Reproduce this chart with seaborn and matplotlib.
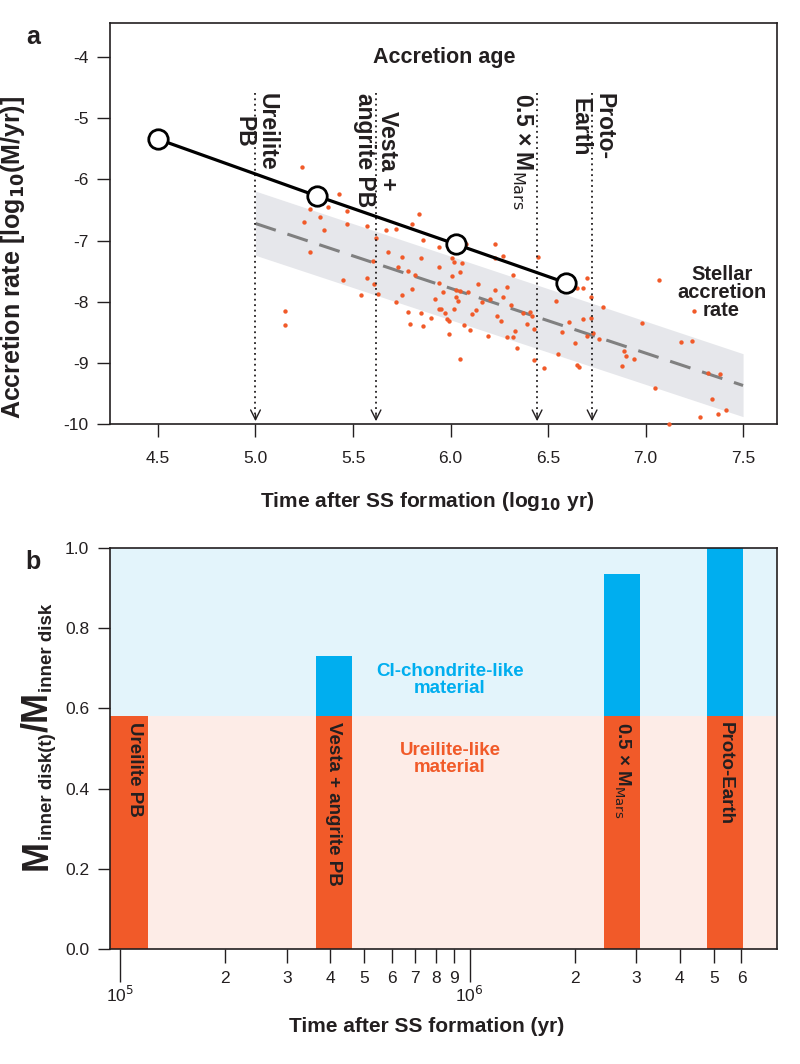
# Accretion rate vs time (a) and inner disk composition bars (b)

import numpy as np
import matplotlib
matplotlib.use('Agg')
import matplotlib.pyplot as plt
import matplotlib.transforms as mtransforms
import seaborn as sns

# ---- panel a data ----
star_x = [5.24, 5.43, 5.28, 5.37, 5.47, 5.33, 5.25, 5.47, 5.35, 5.57, 5.84, 5.80, 5.72, 5.67, 5.62,
          5.86, 5.28, 5.68, 5.75, 5.85, 5.60, 5.73, 5.78, 5.82, 5.94, 5.45, 5.57, 5.61, 5.80, 5.54,
          5.63, 5.75, 5.72, 5.92, 5.94, 5.78, 5.85, 5.90, 5.79, 5.86, 5.15, 5.15, 5.94, 5.94,
          6.23, 6.08, 6.27, 6.23, 6.01, 6.06, 6.02, 6.05, 6.01, 6.32, 6.45, 6.70, 6.65, 6.68, 6.72,
          6.54, 6.78, 7.07, 7.25, 6.14, 6.23, 6.29, 5.96, 6.03, 6.05, 6.09, 6.03, 6.16, 6.04, 6.20,
          6.27, 6.31, 6.02, 6.13, 5.95, 5.97, 6.11, 6.24, 6.37, 6.41, 6.42, 5.98, 5.99, 6.26, 6.39,
          6.61, 6.68, 6.72, 6.43, 6.33, 6.07, 6.10, 5.99, 6.19, 6.29, 6.32, 6.57, 6.70, 6.73, 6.76,
          6.64, 6.34, 6.98, 7.18, 7.24, 6.89, 6.90, 6.94, 6.55, 6.88, 6.05, 6.43, 6.48, 6.65, 6.66,
          7.05, 7.32, 7.38, 7.34, 7.41, 7.37, 7.28, 7.12]
star_y = [-5.79, -6.23, -6.48, -6.45, -6.52, -6.62, -6.70, -6.72, -6.82, -6.76, -6.57, -6.72, -6.81, -6.83, -6.95,
          -6.99, -7.19, -7.19, -7.27, -7.28, -7.34, -7.43, -7.50, -7.56, -7.43, -7.64, -7.61, -7.71, -7.79, -7.89,
          -7.87, -7.89, -8.01, -7.96, -8.12, -8.16, -8.18, -8.26, -8.36, -8.39, -8.15, -8.38, -7.11, -7.70,
          -7.06, -7.06, -7.25, -7.29, -7.28, -7.37, -7.35, -7.51, -7.58, -7.56, -7.26, -7.61, -7.77, -7.77, -7.92,
          -7.98, -8.08, -7.65, -8.15, -7.71, -7.80, -7.76, -7.84, -7.80, -7.82, -7.84, -7.92, -8.00, -7.98, -7.95,
          -7.93, -8.06, -8.12, -8.13, -8.12, -8.19, -8.20, -8.23, -8.18, -8.16, -8.23, -8.29, -8.31, -8.31, -8.37,
          -8.33, -8.29, -8.27, -8.45, -8.48, -8.38, -8.46, -8.53, -8.56, -8.58, -8.58, -8.50, -8.56, -8.51, -8.61,
          -8.68, -8.76, -8.34, -8.66, -8.65, -8.81, -8.89, -8.93, -8.85, -9.05, -8.94, -8.96, -9.09, -9.03, -9.06,
          -9.41, -9.16, -9.18, -9.59, -9.77, -9.83, -9.89, -10.0]

# accretion of the bodies (black line with circles)
body_x = [4.5, 5.315, 6.028, 6.592]
body_y = [-5.34, -6.27, -7.06, -7.69]

# stellar accretion rate trend and spread
trend_x = [5.0, 7.5]
trend_y = [-6.72, -9.37]
band_upper = [-6.19, -8.85]
band_lower = [-7.24, -9.88]

# accretion ages (log10 yr)
age_names = ['Ureilite\nPB', 'Vesta +\nangrite PB', '0.5 × M$_{\\mathrm{Mars}}$', 'Proto-\nEarth']
age_x = [5.0, 5.618, 6.444, 6.726]

# ---- panel b data ----
bar_names = ['Ureilite PB', 'Vesta + angrite PB', '0.5 × M$_{\\mathrm{Mars}}$', 'Proto-Earth']
bar_start = [9.0e4, 3.637e5, 2.425e6, 4.78e6]
bar_end = [1.203e5, 4.61e5, 3.074e6, 6.06e6]
ureilite_frac = [0.58, 0.58, 0.58, 0.58]
total_frac = [0.58, 0.73, 0.935, 1.0]

orange = '#F15A29'
blue = '#00AEEF'
dark = '#231F20'
narrow = ['Liberation Sans Narrow', 'Liberation Sans', 'DejaVu Sans']

sns.set_style('ticks')
plt.rcParams['font.family'] = ['Liberation Sans', 'DejaVu Sans']
plt.rcParams['axes.unicode_minus'] = False
plt.rcParams['mathtext.fontset'] = 'custom'
plt.rcParams['mathtext.rm'] = 'Liberation Sans Narrow'
plt.rcParams['mathtext.bf'] = 'Liberation Sans Narrow:bold'
plt.rcParams['mathtext.it'] = 'Liberation Sans Narrow:italic'
plt.rcParams['axes.edgecolor'] = dark
plt.rcParams['xtick.color'] = dark
plt.rcParams['ytick.color'] = dark

fig = plt.figure(figsize=(8, 10.64), dpi=100)
ax1 = fig.add_axes([110 / 800, 1 - 424 / 1064, 667 / 800, 401 / 1064])
ax2 = fig.add_axes([110 / 800, 1 - 949 / 1064, 667 / 800, 401 / 1064])

# ---------------- panel a ----------------
ax1.fill_between(trend_x, band_lower, band_upper, color='#E6E7EB', lw=0, zorder=1)
sns.scatterplot(x=star_x, y=star_y, ax=ax1, color=orange, s=10, linewidth=0, zorder=3, clip_on=False)
sns.lineplot(x=trend_x, y=trend_y, ax=ax1, color='#808080', lw=2.2, zorder=2)
ax1.lines[-1].set_dashes([7, 4])
sns.lineplot(x=body_x, y=body_y, ax=ax1, color='black', lw=2.3, marker='o', markersize=14,
             markerfacecolor='white', markeredgecolor='black', markeredgewidth=2, zorder=5, clip_on=False)

for name, x in zip(age_names, age_x):
    ax1.plot([x, x], [-4.59, -9.9], color=dark, lw=1.3, ls=(0, (1, 2)), zorder=4)
    ax1.annotate('', xy=(x, -10.0), xytext=(x, -9.8),
                 arrowprops=dict(arrowstyle='->,head_length=0.7,head_width=0.35', lw=1, color=dark))
    dx = -0.075 if name.startswith('0.5') else 0.0
    ax1.text(x + dx, -4.59, name, rotation=-90, ha='center', va='top', fontsize=16.5,
             fontweight='bold', color=dark, linespacing=1.05, family=narrow)

ax1.text(5.967, -4.0, 'Accretion age', ha='center', va='center', fontsize=15.5, fontweight='bold',
         color=dark, family=narrow)
ax1.text(7.39, -7.85, 'Stellar\naccretion\nrate', ha='center', va='center', fontsize=14.5,
         fontweight='bold', color=dark, linespacing=0.95, family=narrow)

ax1.set_xlim(4.254, 7.674)
ax1.set_ylim(-10, -3.44)
ax1.set_xticks([4.5, 5.0, 5.5, 6.0, 6.5, 7.0, 7.5])
ax1.set_xticklabels(['4.5', '5.0', '5.5', '6.0', '6.5', '7.0', '7.5'])
ax1.set_yticks([-10, -9, -8, -7, -6, -5, -4])
ax1.set_yticklabels(['-10', '-9', '-8', '-7', '-6', '-5', '-4'])
ax1.tick_params(axis='x', direction='out', length=9.5, width=1, labelsize=12.5, pad=10)
ax1.tick_params(axis='y', direction='out', length=9.5, width=1, labelsize=12.5, pad=6)
ax1.set_xlabel('Time after SS formation (log$_{\\mathbf{10}}$ yr)', fontsize=15, fontweight='bold',
               color=dark, family=narrow)
ax1.xaxis.set_label_coords(0.475, -0.165)
ax1.set_ylabel('Accretion rate [log$_{\\mathbf{10}}$(M/yr)]', fontsize=18, fontweight='bold',
               color=dark, family=narrow)
ax1.yaxis.set_label_coords(-0.124, 0.416)
for s in ax1.spines.values():
    s.set_linewidth(1.2)

# ---------------- panel b ----------------
ax2.set_xscale('log')
ax2.axhspan(0, 0.58, color='#FDECE7', lw=0, zorder=0)
ax2.axhspan(0.58, 1.0, color='#E3F4FB', lw=0, zorder=0)
widths = [e - s for s, e in zip(bar_start, bar_end)]
blue_h = [t - u for t, u in zip(total_frac, ureilite_frac)]
ax2.bar(bar_start, ureilite_frac, width=widths, align='edge', color=orange, lw=0, zorder=2)
ax2.bar(bar_start, blue_h, width=widths, bottom=ureilite_frac, align='edge', color=blue, lw=0, zorder=2)

for name, s, e in zip(bar_names, bar_start, bar_end):
    xc = np.sqrt(s * e) if s > 1e5 else np.sqrt(1.0e5 * e)
    ax2.text(xc, 0.565, name, rotation=-90, ha='center', va='top', fontsize=13.5,
             fontweight='bold', color=dark, zorder=4, family=narrow)

ax2.text(8.8e5, 0.67, 'CI-chondrite-like\nmaterial', ha='center', va='center', fontsize=13.5,
         fontweight='bold', color=blue, linespacing=1.0, family=narrow)
ax2.text(8.8e5, 0.475, 'Ureilite-like\nmaterial', ha='center', va='center', fontsize=13.5,
         fontweight='bold', color=orange, linespacing=1.0, family=narrow)

ax2.set_xlim(10 ** 4.9714, 10 ** 6.8798)
ax2.set_ylim(0, 1.0)
ax2.set_yticks([0.0, 0.2, 0.4, 0.6, 0.8, 1.0])
ax2.set_yticklabels(['0.0', '0.2', '0.4', '0.6', '0.8', '1.0'])
ax2.set_xticks([1e5, 1e6])
ax2.set_xticklabels(['10$^{5}$', '10$^{6}$'])
minor_ticks = [2e5, 3e5, 4e5, 5e5, 6e5, 7e5, 8e5, 9e5, 2e6, 3e6, 4e6, 5e6, 6e6]
ax2.set_xticks(minor_ticks, minor=True)
ax2.set_xticklabels(['2', '3', '4', '5', '6', '7', '8', '9', '2', '3', '4', '5', '6'], minor=True)
ax2.tick_params(axis='x', which='major', direction='out', length=24, width=1, labelsize=12.5, pad=2)
ax2.tick_params(axis='x', which='minor', direction='out', length=10, width=1, labelsize=12.5, pad=6)
ax2.tick_params(axis='y', direction='out', length=9, width=1, labelsize=12.5, pad=6)
ax2.set_xlabel('Time after SS formation (yr)', fontsize=15, fontweight='bold', color=dark, family=narrow)
ax2.xaxis.set_label_coords(0.475, -0.17)
for s in ax2.spines.values():
    s.set_linewidth(1.2)

# y label of panel b: big M with small subscripts, stacked upwards
renderer = fig.canvas.get_renderer()
px = mtransforms.IdentityTransform()
label_parts = [('M', 26, 0), ('inner disk(t)', 13.5, 5), ('/M', 26, 0), ('inner disk', 13.5, 5)]
base_x = 47
cur_y = 1064 - 870
for part, size, shift in label_parts:
    t = fig.text(base_x + shift, cur_y, part, rotation=90, rotation_mode='anchor', ha='left',
                 va='baseline', fontsize=size, fontweight='bold', color=dark, family=narrow, transform=px)
    cur_y += t.get_window_extent(renderer).height + 0.5

fig.text(33 / 800, 1 - 37 / 1064, 'a', fontsize=18, fontweight='bold', color=dark, ha='center', va='center')
fig.text(33 / 800, 1 - 562 / 1064, 'b', fontsize=18, fontweight='bold', color=dark, ha='center', va='center')

fig.savefig('out.png', dpi=100)
